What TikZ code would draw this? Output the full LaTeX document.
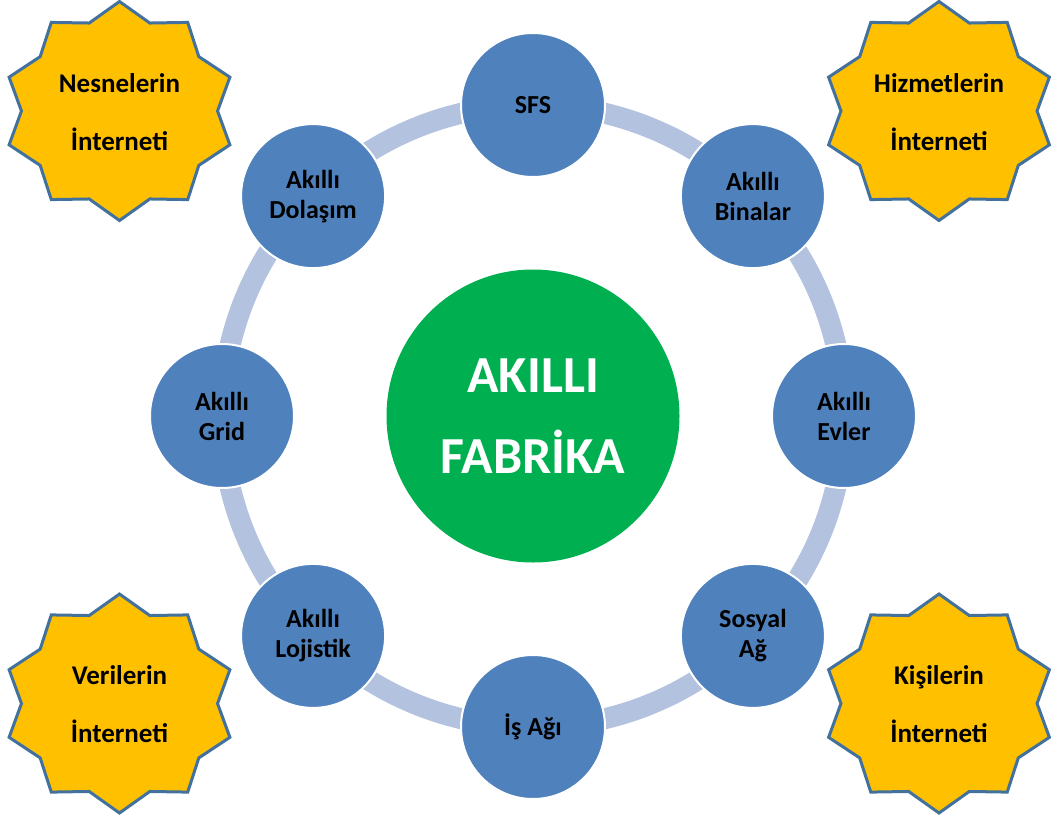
\documentclass[tikz,border=0pt]{standalone}
\usepackage{fontspec}
\setmainfont{Carlito}
\usetikzlibrary{calc,positioning}

\definecolor{ballblue}{HTML}{4F81BD}
\definecolor{ringblue}{HTML}{B3C3DF}
\definecolor{fabgreen}{HTML}{00B050}
\definecolor{stargold}{HTML}{FFC000}
\definecolor{staredge}{HTML}{41719C}

\tikzset{
  ball/.style={circle, fill=ballblue, draw=white, line width=2pt, minimum size=144pt,
    inner sep=0pt, align=center, font=\fontsize{26}{30}\selectfont\bfseries},
  bigball/.style={circle, fill=fabgreen, minimum size=293pt, inner sep=0pt,
    align=center, text=white, font=\fontsize{52}{81}\selectfont\bfseries},
  ringline/.style={draw=ringblue, line width=21pt},
  starline/.style={fill=stargold, draw=staredge, line width=3pt, line join=miter},
  startext/.style={align=center, font=\fontsize{27}{58}\selectfont\bfseries}
}

\begin{document}
\begin{tikzpicture}[x=1pt,y=-1pt]
\useasboundingbox (0,0) rectangle (1055,819);

% stars in the corners
\foreach \name/\x/\y/\txt in {nes/119.5/111/{Nesnelerin\\İnterneti},
                              hiz/939/111/{Hizmetlerin\\İnterneti},
                              ver/119.5/703.5/{Verilerin\\İnterneti},
                              kis/939/703.5/{Kişilerin\\İnterneti}}
{
  \draw[starline] plot[samples at={0,...,19}, variable=\t]
    ({\x + 1.06*ifthenelse(mod(\t,2)==0,109.5,92.5)*cos(90+18*\t)},
     {\y + ifthenelse(mod(\t,2)==0,109.5,92.5)*sin(90+18*\t)}) -- cycle;
  \node[startext] (\name) at (\x,\y+1) {\txt};
}

% center
\node[bigball] (fab) at (533,416) {AKILLI\\FABRİKA};

% ring behind the small circles
\draw[ringline] (fab.center) circle[radius=311];

% small circles (y axis points down, so -90 is up)
\foreach \a/\name/\txt in {-90/sfs/SFS, -45/bina/{Akıllı\\Binalar}, 0/ev/{Akıllı\\Evler},
                           45/sosyal/{Sosyal\\Ağ}, 90/is/{İş Ağı}, 135/loj/{Akıllı\\Lojistik},
                           180/grid/{Akıllı\\Grid}, 225/dol/{Akıllı\\Dolaşım}}
{
  \node[ball] (\name) at ($(fab.center)+(\a:311)$) {\txt};
}
\end{tikzpicture}
\end{document}
